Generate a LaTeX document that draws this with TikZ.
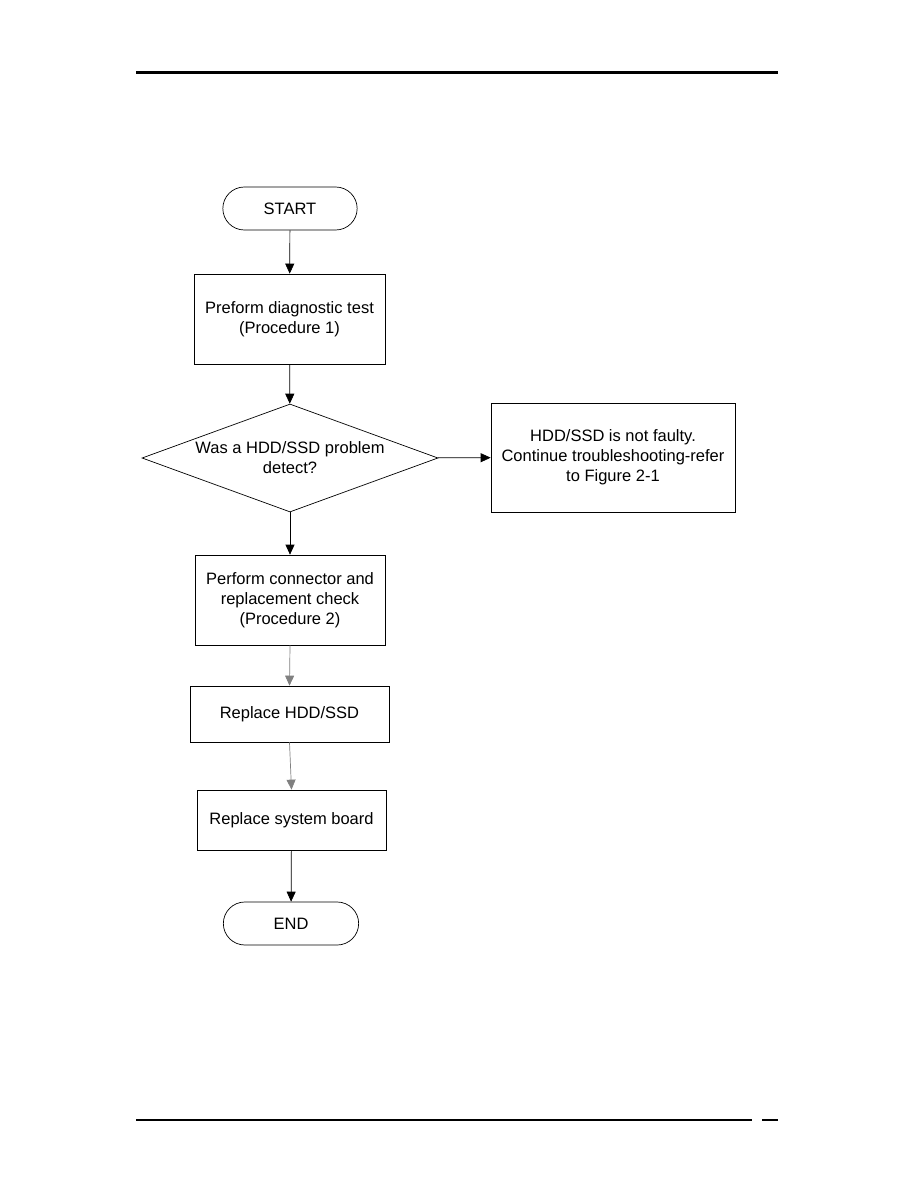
\documentclass[tikz,border=0pt]{standalone}
\usepackage{fontspec}
\setmainfont{Liberation Sans}
\usetikzlibrary{shapes.geometric,shapes.misc,arrows.meta}
\tikzset{
  terminal/.style={draw, rounded rectangle, minimum width=141pt, minimum height=43pt, font=\fontsize{16.5}{20}\selectfont},
  boite/.style={draw, rectangle, align=center, font=\fontsize{16.5}{20}\selectfont},
  choix/.style={draw, diamond, aspect=2.74, minimum width=296pt, minimum height=108pt, inner sep=0pt, align=center, font=\fontsize{16.5}{20}\selectfont},
  fleche/.style={-{Triangle[length=10pt,width=9pt]}, line width=0.7pt},
}
\begin{document}
\begin{tikzpicture}[x=1pt,y=-1pt,line width=0.7pt]
        \useasboundingbox (0,0) rectangle (918,1188);
        % Lignes de page
        \draw[line width=3pt] (136,73) -- (778,73);
        \draw[line width=2pt] (136,1120) -- (752,1120);
        \draw[line width=2pt] (762,1120) -- (778,1120);

        % Noeuds
        \node[terminal] (debut) at (290,208.5) {START};
        \node[boite, minimum width=191pt, minimum height=90pt] (diag) at (289.5,319) {Preform diagnostic test\\(Procedure 1)};
        \node[choix] (question) at (290,458) {Was a HDD/SSD problem\\detect?};
        \node[boite, minimum width=244pt, minimum height=109pt] (correct) at (613,457.5) {HDD/SSD is not faulty.\\Continue troubleshooting-refer\\to Figure 2-1};
        \node[boite, minimum width=190pt, minimum height=90pt] (connecteur) at (290,600) {Perform connector and\\replacement check\\(Procedure 2)};
        \node[boite, minimum width=199pt, minimum height=56pt] (disque) at (289.5,714) {Replace HDD/SSD};
        \node[boite, minimum width=189pt, minimum height=60pt] (carte) at (291.5,820) {Replace system board};
        \node[terminal, minimum width=142pt] (fin) at (291,923.5) {END};

        % Connexions
        \draw[fleche] (debut) -- (diag);
        \draw[fleche] (diag) -- (question);
        \draw[fleche] (question) -- (correct);
        \draw[fleche] (question) -- (connecteur);
        \draw[fleche, draw=gray] (connecteur.south) -- (disque.north);
        \draw[fleche, draw=gray] (disque.south) -- (carte.north);
        \draw[fleche] (carte) -- (fin);
\end{tikzpicture}
\end{document}
